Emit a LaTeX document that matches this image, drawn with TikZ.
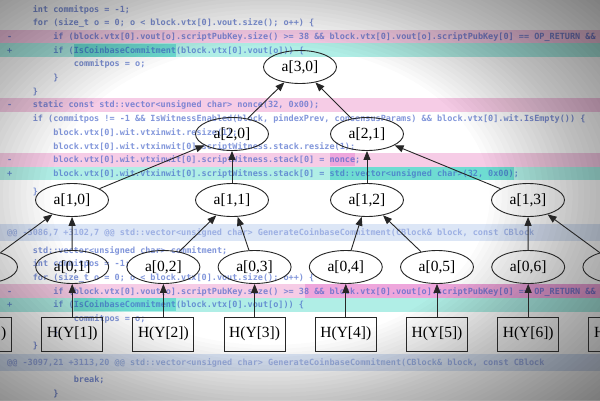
\documentclass[tikz,border=0pt]{standalone}
\usepackage{fontspec}
\setmainfont{Liberation Serif}
\newfontfamily\codefont{DejaVu Sans Mono}
\usetikzlibrary{shapes.geometric,arrows.meta}

\definecolor{codeblue}{HTML}{3F5FC8}
\definecolor{delpink}{HTML}{F6CCE6}
\definecolor{delpinkhi}{HTML}{EEA6DC}
\definecolor{addcyan}{HTML}{B0EEE6}
\definecolor{addcyanhi}{HTML}{6EDCD2}
\definecolor{hunkblue}{HTML}{DCE6F6}

\begin{document}
\begin{tikzpicture}[x=1pt,y=-1pt]
                \tikzstyle{hash} = [ellipse, draw=black!85, line width=0.9pt, minimum width=73pt, minimum height=33pt, inner sep=0pt, font=\fontsize{15.5}{18}\selectfont]
                \tikzstyle{leaf} = [rectangle, draw=black!85, line width=0.9pt, minimum width=61pt, minimum height=34pt, inner sep=0pt, font=\fontsize{15.5}{18}\selectfont]
                \tikzstyle{arrow} = [line width=0.9pt, draw=black!85, -{Triangle[length=9pt,width=7pt]}]
                \tikzstyle{codeline} = [anchor=base west, inner sep=0pt, text=codeblue, text opacity=0.65, font=\codefont\bfseries\fontsize{8.5}{10}\selectfont]
                \tikzstyle{hunkline} = [codeline, text opacity=0.4]

                \useasboundingbox (0,0) rectangle (600,400);
                \clip (0,0) rectangle (600,400);
                \fill[white] (0,0) rectangle (600,400);

                % diff background
                \fill[delpink] (0,29.5) rectangle (600,43.2);
                \fill[addcyan] (0,43.2) rectangle (600,57);
                \fill[addcyanhi] (73.6,43.5) rectangle (176,56.5);
                \fill[delpink] (0,98) rectangle (600,111.7);
                \fill[delpink] (0,152.8) rectangle (600,166.5);
                \fill[delpinkhi] (329.6,153) rectangle (355.2,166.3);
                \fill[addcyan] (0,166.5) rectangle (600,180.3);
                \fill[addcyanhi] (329.6,166.8) rectangle (514,180);
                \fill[hunkblue] (0,224) rectangle (600,240.5);
                \fill[delpink] (0,284.2) rectangle (600,298);
                \fill[delpinkhi] (305,284.4) rectangle (600,297.8);
                \fill[addcyan] (0,298) rectangle (600,311.7);
                \fill[addcyanhi] (73.6,298.3) rectangle (176,311.4);
                \fill[hunkblue] (0,354) rectangle (600,370.5);

                \node[codeline] (c1) at (32.6,12) {int commitpos = -1;};
                \node[codeline] (c2) at (32.6,25.7) {for (size\_t o = 0; o < block.vtx[0].vout.size(); o++) \{};
                \node[codeline] (m3) at (7,39.4) {-};
                \node[codeline] (c3) at (53.1,39.4) {if (block.vtx[0].vout[o].scriptPubKey.size() >= 38 \&\& block.vtx[0].vout[o].scriptPubKey[0] == OP\_RETURN \&\& block};
                \node[codeline] (m4) at (7,53.1) {+};
                \node[codeline] (c4) at (53.1,53.1) {if (IsCoinbaseCommitment(block.vtx[0].vout[o])) \{};
                \node[codeline] (c5) at (73.6,66.8) {commitpos = o;};
                \node[codeline] (c6) at (53.1,80.5) {\}};
                \node[codeline] (c7) at (32.6,94.2) {\}};
                \node[codeline] (m8) at (7,107.9) {-};
                \node[codeline] (c8) at (32.6,107.9) {static const std::vector<unsigned char> nonce(32, 0x00);};
                \node[codeline] (c9) at (32.6,121.6) {if (commitpos != -1 \&\& IsWitnessEnabled(block, pindexPrev, consensusParams) \&\& block.vtx[0].wit.IsEmpty()) \{};
                \node[codeline] (c10) at (53.1,135.3) {block.vtx[0].wit.vtxinwit.resize(1);};
                \node[codeline] (c11) at (53.1,149) {block.vtx[0].wit.vtxinwit[0].scriptWitness.stack.resize(1);};
                \node[codeline] (m12) at (7,162.7) {-};
                \node[codeline] (c12) at (53.1,162.7) {block.vtx[0].wit.vtxinwit[0].scriptWitness.stack[0] = nonce;};
                \node[codeline] (m13) at (7,176.4) {+};
                \node[codeline] (c13) at (53.1,176.4) {block.vtx[0].wit.vtxinwit[0].scriptWitness.stack[0] = std::vector<unsigned char>(32, 0x00);};
                \node[codeline] (c14) at (32.6,194) {\}};
                \node[hunkline] (h15) at (7,235) {@@ -3086,7 +3102,7 @@ std::vector<unsigned char> GenerateCoinbaseCommitment(CBlock\& block, const CBlock};
                \node[codeline] (c16) at (32.6,253) {std::vector<unsigned char> commitment;};
                \node[codeline] (c17) at (32.6,266.7) {int commitpos = -1;};
                \node[codeline] (c18) at (32.6,280.4) {for (size\_t o = 0; o < block.vtx[0].vout.size(); o++) \{};
                \node[codeline] (m19) at (7,294.1) {-};
                \node[codeline] (c19) at (53.1,294.1) {if (block.vtx[0].vout[o].scriptPubKey.size() >= 38 \&\& block.vtx[0].vout[o].scriptPubKey[0] == OP\_RETURN \&\& block};
                \node[codeline] (m20) at (7,307.8) {+};
                \node[codeline] (c20) at (53.1,307.8) {if (IsCoinbaseCommitment(block.vtx[0].vout[o])) \{};
                \node[codeline] (c21) at (73.6,321.5) {commitpos = o;};
                \node[codeline] (c22) at (53.1,335.2) {\}};
                \node[codeline] (c23) at (32.6,348.9) {\}};
                \node[hunkline] (h24) at (7,365) {@@ -3097,21 +3113,20 @@ std::vector<unsigned char> GenerateCoinbaseCommitment(CBlock\& block, const CBlock};
                \node[codeline] (c25) at (73.6,382.5) {break;};
                \node[codeline] (c26) at (53.1,396.2) {\}};

                % vignette: many faint rings, darker towards the corners
                \foreach \k in {0,...,39}
                    \fill[black, fill opacity=0.016, even odd rule] (-10,-10) rectangle (610,410)
                        (270,195) ellipse [x radius=220+5.9*\k, y radius=150+4*\k];

                % hash tree
                \node (a30) [hash] at (300,67) {a[3,0]};
                \node (a20) [hash] at (232,134) {a[2,0]};
                \node (a21) [hash] at (367,134) {a[2,1]};
                \node (a10) [hash] at (72,200) {a[1,0]};
                \node (a11) [hash] at (232,200) {a[1,1]};
                \node (a12) [hash] at (367,200) {a[1,2]};
                \node (a13) [hash] at (528,200) {a[1,3]};
                \foreach \k in {0,...,7} {
                    \node (a0\k) [hash] at (-19+91.2*\k,267) {a[0,\k]};
                    \node (h\k) [leaf] at (-19+91.2*\k,334) {H(Y[\k])};
                    \draw [arrow] (h\k) -- (a0\k);
                }

                \draw [arrow] (a00) -- (a10);
                \draw [arrow] (a01) -- (a10);
                \draw [arrow] (a02) -- (a11);
                \draw [arrow] (a03) -- (a11);
                \draw [arrow] (a04) -- (a12);
                \draw [arrow] (a05) -- (a12);
                \draw [arrow] (a06) -- (a13);
                \draw [arrow] (a07) -- (a13);
                \draw [arrow] (a10) -- (a20);
                \draw [arrow] (a11) -- (a20);
                \draw [arrow] (a12) -- (a21);
                \draw [arrow] (a13) -- (a21);
                \draw [arrow] (a20) -- (a30);
                \draw [arrow] (a21) -- (a30);
            \end{tikzpicture}
\end{document}
